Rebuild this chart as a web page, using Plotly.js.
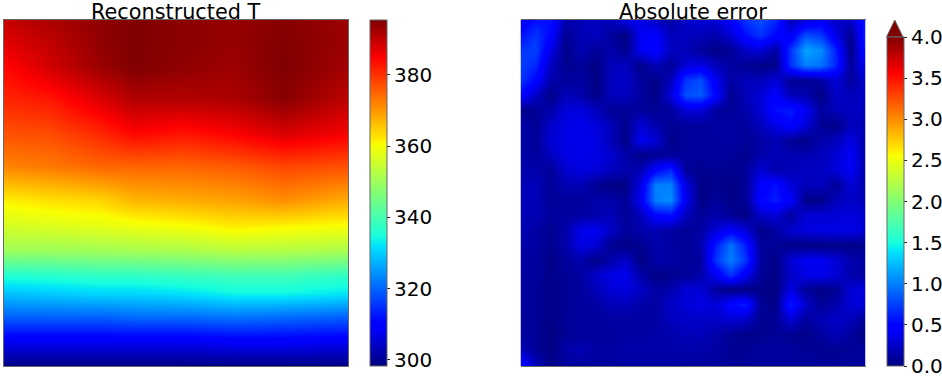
<!DOCTYPE html>
<html>
<head>
<meta charset="utf-8">
<script src="https://cdn.plot.ly/plotly-3.0.1.min.js"></script>
<style>html,body{margin:0;padding:0;background:#fff}#c{width:942px;height:379px}</style>
</head>
<body>
<div id="c"></div>
<script>
var tempCols = [10,150,300,400,550,700,850,1045];
var tempRows = [60,130,200,300,400,500,600,680,750,830,880,950,1020,1100];
var tempValues = [
[389.5,391.8,394,395.4,394.4,393.5,394.8,393],
[387,390,394,395.4,394.4,393.5,395.2,393],
[384,388.5,393,395.4,394,393,395.4,392.5],
[381,382.5,387.5,391,391,391.5,394.5,390],
[377,377.5,381,384.5,383,385,388,385.5],
[372,373,375,375,375,376,378,377],
[361.5,363,364,367,368,369,371,368],
[356,357,358,359,360,362,361,360],
[350,350,350.5,351,351.5,353,352.5,351.5],
[335.5,336,337,337,338,339,339,337],
[329,330,331,331,332,334,334,332.5],
[320,320,320,321,321,322,321,320],
[309,309,309,309,309,310,310,309],
[298.5,298.5,298.5,298.5,298.5,298.5,298.5,298.5]
];
var errCols = [30,75,120,165,210,255,300,345,390,435,480,525,570,615,660,705,750,795,840,885,930,975,1020,1065];
var errRows = [60,105,150,195,240,285,330,375,420,465,510,555,600,645,690,735,780,825,870,915,960,1005,1050,1100];
var errValues = [
[.4,.55,.55,.15,.2,.22,.2,.35,.35,.25,.12,.25,.3,.3,.45,.7,.8,.65,.2,.3,.4,.25,.25,.6],
[.55,.7,.5,.06,.18,.22,.1,.01,.42,.45,.2,.22,.2,.15,.3,.55,.7,.5,.4,.8,.72,.35,.06,.65],
[.7,.75,.35,.03,.18,.08,.15,.05,.4,.5,.22,.2,.1,.02,.08,.25,.3,.12,.7,1.15,1.05,.62,.03,.6],
[.75,.65,.22,.05,.1,.01,.2,.22,.04,.2,.08,.3,.35,.2,.12,.08,.03,.03,.7,1.0,.95,.65,.08,.45],
[.7,.5,.15,.1,.12,.01,.22,.25,.1,.02,.2,.7,.8,.4,.12,.2,.2,.3,.08,.05,.12,.3,.1,.3],
[.5,.25,.03,.2,.15,.03,.2,.22,.1,.03,.3,.8,.85,.5,.05,.2,.3,.45,.2,.18,.01,.25,.2,.25],
[.03,.08,.15,.32,.32,.22,.08,.08,.1,.08,.1,.3,.3,.1,.08,.15,.3,.55,.6,.4,.12,.2,.22,.22],
[.15,.08,.25,.35,.38,.32,.2,.05,.3,.15,.08,.1,.1,.12,.12,.1,.22,.35,.5,.3,.08,.03,.2,.2],
[.15,.08,.3,.35,.38,.35,.2,.02,.4,.3,.03,.1,.1,.1,.12,.08,.12,.18,.08,.03,.15,.2,.35,.15],
[.15,.1,.22,.35,.37,.35,.28,.15,.03,.06,.1,.1,.1,.1,.1,.05,.15,.2,.18,.18,.2,.3,.42,.15],
[.15,.15,.08,.28,.33,.3,.22,.15,.18,.5,.65,.08,.06,.08,.05,.1,.3,.15,.2,.22,.22,.3,.42,.15],
[.2,.2,.08,.18,.18,.06,.02,.02,.35,1.0,1.0,.35,.02,.05,.03,.08,.45,.55,.3,.2,.22,.08,.3,.15],
[.2,.2,.08,.1,.1,.15,.15,.08,.4,1.0,1.05,.4,.02,.1,.03,.08,.5,.6,.45,.03,.03,.2,.25,.2],
[.2,.18,.1,.1,.12,.15,.2,.08,.2,.5,.55,.2,.08,.15,.08,.01,.25,.3,.1,.3,.3,.3,.32,.28],
[.18,.12,.06,.15,.38,.4,.25,.1,.15,.18,.12,.08,.12,.3,.45,.3,.03,.12,.28,.32,.35,.35,.35,.3],
[.15,.12,.05,.15,.35,.3,.05,.03,.06,.15,.12,.08,.15,.6,.95,.6,.1,.08,.03,.02,.02,.03,.03,.06],
[.13,.1,.03,.1,.15,.03,.15,.25,.01,.15,.14,.08,.1,.7,1.0,.7,.1,.03,.3,.4,.4,.3,.15,.15],
[.12,.1,.04,.08,.12,.25,.35,.38,.15,.01,.06,.08,.15,.4,.7,.4,.08,.02,.25,.35,.38,.3,.15,.12],
[.12,.08,.03,.08,.1,.2,.3,.33,.25,.12,.15,.3,.3,.1,.01,.02,.03,.01,.35,.08,.03,.06,.3,.35],
[.12,.08,.04,.07,.1,.12,.2,.2,.15,.12,.25,.3,.35,.3,.5,.6,.08,.03,.6,.25,.08,.15,.3,.33],
[.1,.08,.03,.08,.1,.1,.12,.12,.12,.12,.22,.25,.25,.25,.3,.25,.06,.08,.3,.1,.18,.25,.2,.08],
[.12,.08,.01,.07,.1,.1,.1,.12,.12,.14,.15,.2,.2,.15,.08,.03,.06,.08,.06,.03,.12,.2,.1,.03],
[.2,.08,.01,.14,.18,.12,.12,.15,.15,.15,.15,.15,.15,.12,.08,.08,.1,.12,.1,.08,.06,.06,.08,.1],
[.6,.2,.03,.1,.1,.1,.1,.12,.12,.12,.12,.1,.1,.1,.08,.08,.1,.1,.1,.1,.1,.1,.1,.1]
];
var tempTicks = [300,320,340,360,380];
var errTicks = [0,0.5,1,1.5,2,2.5,3,3.5,4];
var errTickText = ['0.0','0.5','1.0','1.5','2.0','2.5','3.0','3.5','4.0'];

var jet = [[0,'rgb(0,0,128)'],[0.11,'rgb(0,0,255)'],[0.125,'rgb(0,0,255)'],[0.34,'rgb(0,219,255)'],[0.35,'rgb(0,229,246)'],
[0.375,'rgb(24,255,222)'],[0.64,'rgb(250,255,0)'],[0.66,'rgb(255,230,0)'],[0.89,'rgb(255,0,0)'],[0.91,'rgb(232,0,0)'],[1,'rgb(128,0,0)']];

var W = 942, H = 379, edge = '#666';
var font = {family:'"DejaVu Sans", sans-serif', size:20, color:'#000'};
var titleFont = {family:'"DejaVu Sans", sans-serif', size:20.8, color:'#000'};
function px(v){return v/W;}
function py(v){return 1-v/H;}
function bar(left,lenPx,bottom,vals,text){
  return {thickness:17, thicknessmode:'pixels', len:lenPx, lenmode:'pixels', x:px(left), xanchor:'left', xpad:0,
    y:py(bottom), yanchor:'bottom', ypad:0, outlinecolor:edge, outlinewidth:1, ticks:'outside', ticklen:3, tickwidth:1,
    tickcolor:'#222', tickvals:vals, ticktext:text, tickfont:font, borderwidth:0};
}
var traces = [
 {type:'heatmap', x:tempCols, y:tempRows, z:tempValues, xaxis:'x', yaxis:'y', zsmooth:'best', zmin:298.3, zmax:395.4,
  colorscale:jet, colorbar:bar(369.5,346,366,tempTicks,tempTicks.map(String)), hoverinfo:'skip'},
 {type:'heatmap', x:errCols, y:errRows, z:errValues, xaxis:'x2', yaxis:'y2', zsmooth:'best', zmin:0, zmax:4,
  colorscale:jet, colorbar:bar(886.5,329,366,errTicks,errTickText), hoverinfo:'skip'}
];
function ax(extra){
  return Object.assign({showgrid:false, zeroline:false, showticklabels:false, ticks:'', showline:true, mirror:true, linecolor:edge, linewidth:1}, extra);
}
var layout = {
  width:W, height:H, paper_bgcolor:'#fff', plot_bgcolor:'#fff', showlegend:false,
  margin:{l:0,r:0,t:0,b:0,pad:0,autoexpand:false},
  xaxis:ax({domain:[px(3.5),px(348)], range:[10,1045]}),
  yaxis:ax({domain:[py(366),py(20)], range:[1100,60]}),
  xaxis2:ax({domain:[px(520.5),px(865.5)], range:[30,1065]}),
  yaxis2:ax({domain:[py(366),py(20)], range:[1100,60]}),
  annotations:[
   {text:'Reconstructed T', xref:'paper', yref:'paper', x:px(175.5), y:py(-1), xanchor:'center', yanchor:'top', showarrow:false, font:titleFont, borderpad:0},
   {text:'Absolute error', xref:'paper', yref:'paper', x:px(693), y:py(-1), xanchor:'center', yanchor:'top', showarrow:false, font:titleFont, borderpad:0}
  ],
  shapes:[
   {type:'path', xref:'paper', yref:'paper',
    path:'M '+px(886.5)+' '+py(37)+' L '+px(903)+' '+py(37)+' L '+px(894.75)+' '+py(20)+' Z',
    fillcolor:'rgb(128,0,0)', line:{color:edge,width:1}}
  ]
};
Plotly.newPlot('c', traces, layout, {displayModeBar:false, staticPlot:true});
</script>
</body>
</html>
